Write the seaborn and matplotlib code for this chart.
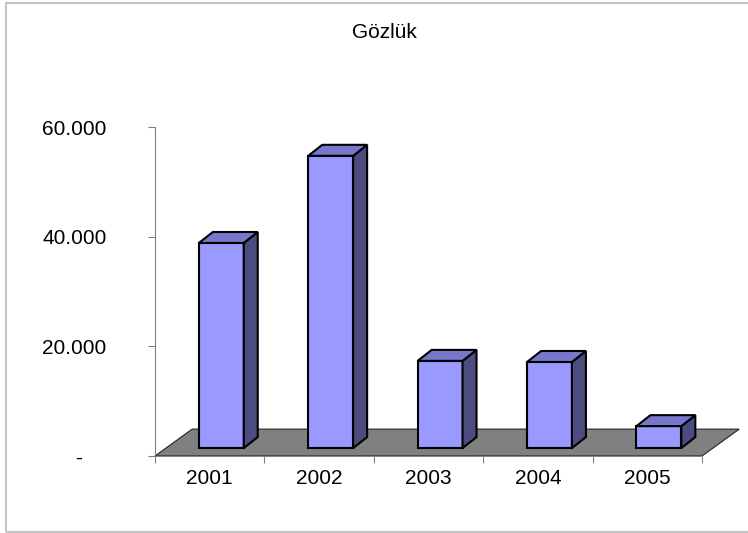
import numpy as np
import matplotlib
matplotlib.use("Agg")
import matplotlib.pyplot as plt
import matplotlib.transforms as mtransforms
from matplotlib.patches import Polygon, Rectangle
import seaborn as sns

#================ data ================
years = ["2001", "2002", "2003", "2004", "2005"]
values = [37400, 53300, 15900, 15700, 4000]
ytick_vals = [0, 20000, 40000, 60000]
ytick_labels = ["-", "20.000", "40.000", "60.000"]
title = "Gözlük"

#================ style ================
sns.set_style("white")
plt.rcParams["font.family"] = ["Liberation Sans", "DejaVu Sans"]
plt.rcParams["text.color"] = "black"
plt.rcParams["xtick.labelcolor"] = "black"
plt.rcParams["ytick.labelcolor"] = "black"

FRONT = "#9999FF"
TOP = "#7777CC"
SIDE = "#4C4C80"
FLOOR = "#808080"
AXIS = "#808080"
LW = 1.5

# fake 3d depth (data units)
DX, DY = 0.34, 4900        # floor depth
BDX, BDY = 0.128, 2000     # bar depth
BW = 0.41
OFFX = DX / 2 - BDX / 2
BOTTOM = DY / 2 - BDY / 2

W, H = 748, 533
fig = plt.figure(figsize=(W / 100, H / 100), dpi=100)
ax = fig.add_axes([155 / W, (H - 456) / H, (702 - 155) / W, (456 - 127) / H])

sns.barplot(x=years, y=values, color=FRONT, saturation=1, edgecolor="black",
            linewidth=LW, width=BW, ax=ax, zorder=2)
ax.set_xlim(-0.5, len(years) - 0.5)
ax.set_ylim(0, 60000)

# floor
floor = Polygon([(-0.5, 0), (len(years) - 0.5, 0),
                 (len(years) - 0.5 + DX, DY), (-0.5 + DX, DY)],
                closed=True, facecolor=FLOOR, edgecolor="#222222",
                linewidth=0.8, zorder=0, clip_on=False)
ax.add_patch(floor)

# shift bars back onto the floor and add top / side faces
for p in list(ax.patches):
    if p is floor:
        continue
    x, w, h = p.get_x(), p.get_width(), p.get_height()
    p.set_x(x + OFFX)
    p.set_y(BOTTOM)
    p.set_clip_on(False)
    x = x + OFFX
    y0, y1 = BOTTOM, BOTTOM + h
    top = Polygon([(x, y1), (x + w, y1), (x + w + BDX, y1 + BDY), (x + BDX, y1 + BDY)],
                  closed=True, facecolor=TOP, edgecolor="black", linewidth=LW,
                  joinstyle="miter", zorder=2, clip_on=False)
    side = Polygon([(x + w, y0), (x + w + BDX, y0 + BDY), (x + w + BDX, y1 + BDY), (x + w, y1)],
                   closed=True, facecolor=SIDE, edgecolor="black", linewidth=LW,
                   joinstyle="miter", zorder=2, clip_on=False)
    ax.add_patch(side)
    ax.add_patch(top)

# axes look
for s in ["top", "right", "bottom"]:
    ax.spines[s].set_visible(False)
ax.spines["left"].set_color(AXIS)
ax.spines["left"].set_linewidth(0.8)

ax.set_yticks(ytick_vals)
ax.set_yticklabels(ytick_labels, fontsize=15)
ax.tick_params(axis="y", direction="out", length=5, width=0.8, color=AXIS, pad=30, left=True)
# accounting style dash sits further left
ylab0 = ax.get_yticklabels()[0]
ylab0.set_transform(ylab0.get_transform() +
                    mtransforms.ScaledTranslation(-24 / 100, 0, fig.dpi_scale_trans))

ax.set_xticks(range(len(years)))
ax.set_xticklabels(years, fontsize=15)
ax.set_xticks(np.arange(-0.5, len(years)), minor=True)
ax.tick_params(axis="x", which="major", length=0, pad=9, bottom=True)
ax.tick_params(axis="x", which="minor", direction="out", length=5, width=0.8,
               color=AXIS, bottom=True)
ax.set_xlabel("")
ax.set_ylabel("")

fig.text(384 / W, 1 - 33 / H, title, ha="center", va="center", fontsize=15, color="black")

# chart border (right side runs off the picture)
fig.add_artist(Rectangle((6 / W, 1 / H), 1.2, 1 - 4 / H, transform=fig.transFigure,
                         fill=False, edgecolor="#C4C4C4", linewidth=1.5))

fig.savefig("out.png", dpi=100)
